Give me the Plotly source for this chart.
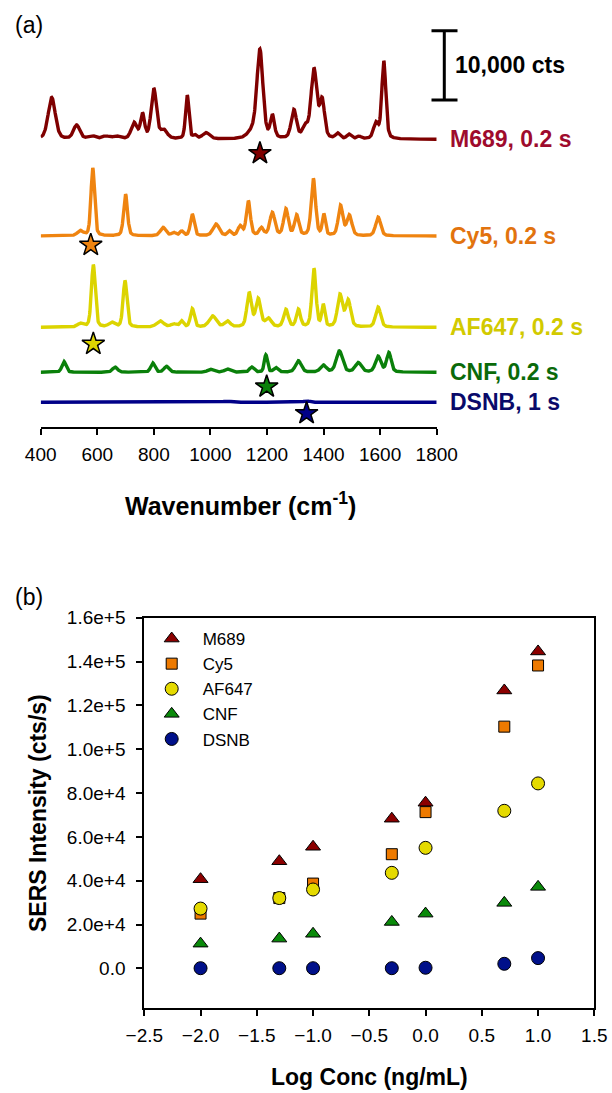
import numpy as np
import plotly.graph_objects as go

# ---------------- (a) SERS spectra: band tables (centre cm-1, height cts, FWHM cm-1)
m689_bands = [
    (439, 6000, 30), (527, 2000, 26), (580, 450, 30), (630, 400, 30), (668, 400, 30),
    (730, 2300, 24), (760, 3500, 17), (800, 7200, 22), (835, 1200, 28), (918, 6300, 14),
    (945, 500, 14), (985, 900, 30), (1150, 1000, 40), (1175, 12600, 25), (1219, 3200, 17),
    (1295, 4100, 22), (1335, 1600, 22), (1366, 10000, 24), (1395, 5400, 20), (1450, 750, 18),
    (1490, 650, 18), (1525, 350, 18), (1585, 2200, 20), (1613, 11200, 17),
]
cy5_bands = [
    (540, 700, 24), (584, 9800, 15), (700, 6000, 16), (833, 1200, 24), (870, 450, 18),
    (898, 650, 15), (936, 3100, 16), (1020, 1700, 26), (1067, 650, 15), (1105, 1350, 18),
    (1134, 5000, 17), (1180, 1100, 18), (1219, 3300, 21), (1267, 3800, 19), (1305, 2900, 18),
    (1364, 8200, 18), (1401, 3000, 13), (1460, 4300, 19), (1491, 2900, 21), (1593, 2700, 21),
]
af647_bands = [
    (540, 500, 24), (586, 9000, 16), (651, 650, 24), (698, 6700, 16), (822, 900, 30),
    (870, 450, 24), (898, 850, 15), (936, 2650, 16), (1008, 1600, 30), (1060, 850, 24),
    (1137, 4900, 19), (1169, 4000, 21), (1205, 1200, 24), (1267, 2500, 19), (1311, 2500, 17),
    (1366, 8400, 17), (1399, 3100, 13), (1458, 4600, 21), (1487, 3800, 21), (1593, 2900, 21),
]
cnf_bands = [
    (482, 1550, 17), (663, 750, 21), (796, 1350, 17), (845, 850, 21), (1000, 420, 24),
    (1060, 470, 24), (1146, 750, 18), (1196, 2500, 13), (1231, 650, 18), (1311, 1650, 24),
    (1399, 1000, 24), (1456, 3050, 26), (1523, 1350, 26), (1593, 2250, 23), (1631, 2800, 19),
]
dsnb_bands = [(1057, 150, 40), (1340, 200, 25)]

spectra_names = ["M689, 0.2 s", "Cy5, 0.2 s", "AF647, 0.2 s", "CNF, 0.2 s", "DSNB, 1 s"]
spectra_bands = [m689_bands, cy5_bands, af647_bands, cnf_bands, dsnb_bands]
# vertical stacking offsets (cts)
spectra_offsets = [41470, 27518, 14343, 7850, 3521]
# reporter band marked with a star (cm-1) and its drop below the trace (cts)
star_wavenumbers = [1175, 577, 586, 1199, 1340]
star_drop = [2020, 1300, 2410, 2080, 1590]
line_colors = ["#7f0000", "#ef8410", "#dcd400", "#0a800a", "#000088"]
label_colors = ["#9e0b2d", "#e2730e", "#d2ca00", "#0a6a0a", "#0a0a6a"]

wn_ticks = [400, 600, 800, 1000, 1200, 1400, 1600, 1800]

# ---------------- (b) intensity vs concentration
log_conc = [-2.0, -1.3, -1.0, -0.3, 0.0, 0.7, 1.0]
m689_int = [40700, 48900, 55500, 68300, 75600, 126800, 144600]
cy5_int = [25000, 32100, 38700, 52100, 71300, 110300, 138200]
af647_int = [27300, 32100, 36000, 43600, 55000, 71900, 84400]
cnf_int = [11300, 13600, 15800, 21200, 25000, 29900, 37200]
dsnb_int = [100, 100, 100, 100, 300, 2100, 4700]

series_names = ["M689", "Cy5", "AF647", "CNF", "DSNB"]
series_values = [m689_int, cy5_int, af647_int, cnf_int, dsnb_int]
series_symbols = ["triangle-up", "square", "circle", "triangle-up", "circle"]
series_colors = ["#8b0000", "#ee7a00", "#e5da00", "#0a8a0a", "#00108a"]

y_ticks = [0, 20000, 40000, 60000, 80000, 100000, 120000, 140000, 160000]
y_tick_text = ["0.0", "2.0e+4", "4.0e+4", "6.0e+4", "8.0e+4", "1.0e+5", "1.2e+5", "1.4e+5", "1.6e+5"]
x_ticks = [-2.5, -2.0, -1.5, -1.0, -0.5, 0.0, 0.5, 1.0, 1.5]

W, H = 612, 1093
FONT = "Liberation Sans, Arial, sans-serif"
TICK_SIZE = 19
LEGEND_SIZE = 17
LABEL_SIZE = 23
TITLE_SIZE = 23


def px_x(p):
    return p / W


def px_y(p):
    return 1 - p / H


def band_profile(wn, bands):
    """Pseudo-Voigt sum of the tabulated bands."""
    out = np.zeros_like(wn, dtype=float)
    for c, h, w in bands:
        d = (wn - c) / (w / 2.0)
        lor = 1.0 / (1.0 + d * d)
        gau = np.exp(-np.log(2) * d * d)
        out += h * (0.35 * lor + 0.65 * gau)
    return out


fig = go.Figure()

wn = np.arange(400, 1801, 1.0)
for name, bands, off, col in zip(spectra_names, spectra_bands, spectra_offsets, line_colors):
    fig.add_trace(go.Scatter(
        x=wn, y=band_profile(wn, bands) + off, mode="lines",
        line=dict(color=col, width=3.4), showlegend=False, hoverinfo="skip",
        xaxis="x", yaxis="y", name=name,
    ))

fig.add_trace(go.Scatter(
    x=star_wavenumbers,
    y=[o - d for o, d in zip(spectra_offsets, star_drop)],
    mode="markers", showlegend=False, xaxis="x", yaxis="y",
    marker=dict(symbol="star", size=17, color=line_colors,
                line=dict(color="black", width=1.5)),
))

for name, vals, sym, col in zip(series_names, series_values, series_symbols, series_colors):
    fig.add_trace(go.Scatter(
        x=log_conc, y=vals, mode="markers", name=name,
        xaxis="x2", yaxis="y2",
        marker=dict(symbol=sym, size=13 if sym != "square" else 11, color=col,
                    line=dict(color="black", width=1)),
    ))

# ---- axes
top_x_dom = [px_x(40.7), px_x(436.7)]
top_y_dom = [px_y(426.7), px_y(20)]
cts_per_px = 10000 / 69.3
top_y_max = (426.7 - 20) * cts_per_px

bot_x_dom = [px_x(144.3), px_x(594.3)]
bot_y_dom = [px_y(1008.3), px_y(617.7)]

tickfont = dict(family=FONT, size=TICK_SIZE, color="black")

fig.update_layout(
    width=W, height=H, autosize=False,
    margin=dict(l=0, r=0, t=0, b=0, pad=0, autoexpand=False),
    paper_bgcolor="white", plot_bgcolor="white",
    font=dict(family=FONT, color="black"),
    xaxis=dict(domain=top_x_dom, range=[400, 1800], tickvals=wn_ticks,
               showline=True, linecolor="black", linewidth=2,
               ticks="outside", ticklen=6, tickwidth=2, tickcolor="black",
               tickfont=tickfont, ticklabelstandoff=3, showgrid=False, zeroline=False,
               anchor="y", automargin=False),
    yaxis=dict(domain=top_y_dom, range=[0, top_y_max], visible=False,
               showgrid=False, zeroline=False, anchor="x", automargin=False),
    xaxis2=dict(domain=bot_x_dom, range=[-2.5, 1.5], tickvals=x_ticks, tickformat=".1f",
                showline=True, mirror=True, linecolor="black", linewidth=2,
                ticks="outside", ticklen=6, tickwidth=2, tickcolor="black",
                tickfont=tickfont, ticklabelstandoff=3, showgrid=False, zeroline=False,
                anchor="y2", automargin=False),
    yaxis2=dict(domain=bot_y_dom, range=[-18200, 160000], tickvals=y_ticks, ticktext=y_tick_text,
                showline=True, mirror=True, linecolor="black", linewidth=2,
                ticks="outside", ticklen=6, tickwidth=2, tickcolor="black",
                tickfont=tickfont, ticklabelstandoff=7, showgrid=False, zeroline=False,
                anchor="x2", automargin=False),
    legend=dict(x=px_x(140.7), y=px_y(621), xanchor="left", yanchor="top",
                bgcolor="rgba(0,0,0,0)", font=dict(family=FONT, size=LEGEND_SIZE, color="black"),
                tracegroupgap=0, itemsizing="trace", itemwidth=52),
    showlegend=True,
)

# ---- scale bar (10,000 cts) in data units on the spectra axis
bar_x = px_x(444.3)
bar_top = spectra_offsets[0] + (139.3 - 30.7) * cts_per_px
bar_bot = bar_top - 10000
shape_line = dict(color="black", width=3)
fig.add_shape(type="line", xref="paper", yref="y", x0=bar_x, x1=bar_x, y0=bar_bot, y1=bar_top, line=shape_line)
fig.add_shape(type="line", xref="paper", yref="y", x0=px_x(431.5), x1=px_x(457.5), y0=bar_top, y1=bar_top, line=shape_line)
fig.add_shape(type="line", xref="paper", yref="y", x0=px_x(431.5), x1=px_x(457.5), y0=bar_bot, y1=bar_bot, line=shape_line)
fig.add_annotation(xref="paper", yref="y", x=px_x(453), y=(bar_top + bar_bot) / 2,
                   text="<b>10,000 cts</b>", showarrow=False, xanchor="left", yanchor="middle",
                   font=dict(family=FONT, size=LABEL_SIZE, color="black"))

# ---- spectrum labels
for name, off, col in zip(spectra_names, spectra_offsets, label_colors):
    fig.add_annotation(xref="paper", yref="y", x=px_x(448), y=off, text=f"<b>{name}</b>",
                       showarrow=False, xanchor="left", yanchor="middle",
                       font=dict(family=FONT, size=LABEL_SIZE, color=col))

# ---- panel letters and axis titles
fig.add_annotation(xref="paper", yref="paper", x=px_x(13), y=px_y(25), text="(a)",
                   showarrow=False, xanchor="left", yanchor="middle",
                   font=dict(family=FONT, size=LABEL_SIZE, color="black"))
fig.add_annotation(xref="paper", yref="paper", x=px_x(13), y=px_y(597), text="(b)",
                   showarrow=False, xanchor="left", yanchor="middle",
                   font=dict(family=FONT, size=LABEL_SIZE, color="black"))
fig.add_annotation(xref="paper", yref="paper", x=px_x(240), y=px_y(504),
                   text="<b>Wavenumber (cm<sup>-1</sup>)</b>", showarrow=False,
                   xanchor="center", yanchor="middle",
                   font=dict(family=FONT, size=25, color="black"))
fig.add_annotation(xref="paper", yref="paper", x=px_x(369.3), y=px_y(1077),
                   text="<b>Log Conc (ng/mL)</b>", showarrow=False,
                   xanchor="center", yanchor="middle",
                   font=dict(family=FONT, size=TITLE_SIZE, color="black"))
fig.add_annotation(xref="paper", yref="paper", x=px_x(38), y=px_y(813),
                   text="<b>SERS Intensity (cts/s)</b>", showarrow=False, textangle=-90,
                   xanchor="center", yanchor="middle",
                   font=dict(family=FONT, size=TITLE_SIZE, color="black"))

fig.write_html("out.html")
